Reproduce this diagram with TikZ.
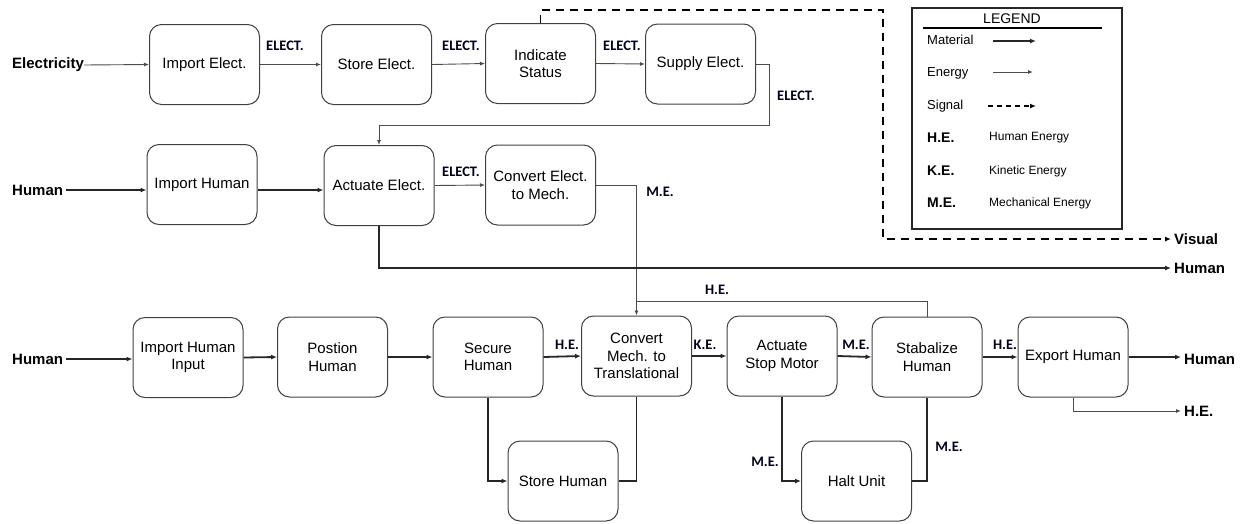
\documentclass[tikz,border=0pt]{standalone}
\usepackage{fontspec}
\setmainfont{Liberation Sans}
\newfontfamily\lblfont{Carlito}
\usepackage{tikz}
\usetikzlibrary{positioning, arrows.meta, calc}
\tikzstyle{func}=[
  rectangle,
  rounded corners=12pt,
  draw=black!75,
  line width=1pt,
  minimum width=110pt,
  minimum height=80pt,
  align=center,
  inner sep=2pt,
  font={\fontsize{15}{17.5}\selectfont}
]
\tikzstyle{material}=[line width=1.8pt, draw=black!85, -{Latex[length=6pt,width=5pt]}]
\tikzstyle{materialline}=[line width=1.8pt, draw=black!85]
\tikzstyle{energy}=[line width=0.9pt, draw=black!70, -{Latex[length=5pt,width=4pt]}]
\tikzstyle{energyline}=[line width=0.9pt, draw=black!70]
\tikzstyle{signal}=[line width=1.8pt, dash pattern=on 8pt off 6pt, -{Latex[length=6pt,width=5pt]}]
\tikzstyle{flowlbl}=[font={\lblfont\bfseries\fontsize{14.5}{16}\selectfont}, text=black!90!blue, inner sep=0pt]
\tikzstyle{extlbl}=[font={\bfseries\fontsize{15}{17}\selectfont}, inner sep=3pt, anchor=west]
\tikzstyle{legtxt}=[font={\fontsize{13}{15}\selectfont}, inner sep=0pt, anchor=west]
\tikzstyle{legsmall}=[font={\fontsize{12}{14}\selectfont}, inner sep=0pt, anchor=west]

\begin{document}
\begin{tikzpicture}[x=1pt, y=-1pt]

\useasboundingbox (0,0) rectangle (1248,523); %% spacing

%% first row
\node[func] (ie) at (204.5, 64.5) {Import Elect.};
\node[func] (se) at (376.5, 64.5) {Store Elect.};
\node[func] (is) at (540.5, 63.5) {Indicate\\Status};
\node[func] (sp) at (700.5, 64) {Supply Elect.};

\node[extlbl, inner sep=0pt] (elec) at (12, 65) {Electricity};

\draw[energy] (elec.east) -- (ie.west);
\draw[energy] (ie.east) -- (se.west);
\draw[energy] (se.east) -- (is.west);
\draw[energy] (is.east) -- (sp.west);

\node[flowlbl] at (285, 46) {ELECT.};
\node[flowlbl] at (461, 46) {ELECT.};
\node[flowlbl] at (622, 46) {ELECT.};
\node[flowlbl] at (796, 96) {ELECT.};

%% second row
\node[func] (ih) at (202, 184.5) {Import Human};
\node[func] (ae) at (379, 185.5) {Actuate Elect.};
\node[func] (ce) at (540.5, 185) {Convert Elect.\\to Mech.};

\node[extlbl] (hum2) at (9, 190) {Human};

\coordinate (spturn) at (769, 125);
\draw[energy] (sp.east) -| (spturn) -| (ae.north);

\draw[material] (hum2.east) -- (hum2.east -| ih.west);
\draw[material] (ih.east |- hum2.east) -- (ae.west |- hum2.east);
\draw[energy] (ae.east) -- (ce.west);
\node[flowlbl] at (461, 172) {ELECT.};

%% third row
\node[func] (ihi) at (188, 357.5) {Import Human\\Input};
\node[func] (ph) at (332.5, 357) {Postion\\Human};
\node[func] (sh) at (488, 357) {Secure\\Human};
\node[func] (cm) at (636.5, 356) {Convert\\Mech. to\\Translational};
\node[func] (asm) at (782, 356) {Actuate\\Stop Motor};
\node[func] (stb) at (927, 357) {Stabalize\\Human};
\node[func] (eh) at (1073, 357) {Export Human};
\node[func] (sth) at (563, 481) {Store Human};
\node[func] (hu) at (856.5, 481) {Halt Unit};

\node[extlbl] (hum3) at (9, 359) {Human};
\node[extlbl] (hout) at (1171, 268) {Human};
\node[extlbl] (vis) at (1171, 239) {Visual};
\node[extlbl] (hout3) at (1181, 359) {Human};
\node[extlbl] (heout) at (1181, 411) {H.E.};

%% signal
\coordinate (sigtop) at (883, 10);
\draw[signal] (is.north) |- (sigtop) |- (vis.west);

%% mechanical energy down
\draw[energy] (ce.east) -| (cm.north);
\node[flowlbl] at (660, 192) {M.E.};

\draw[material] (ae.south) |- (hout.west);

\draw[material] (hum3.east) -- (hum3.east -| ihi.west);
\draw[material] (ihi.east) -- (ph.west);
\draw[material] (ph.east) -- (sh.west);
\draw[material] (sh.east) -- (cm.west);
\draw[material] (cm.east) -- (asm.west);
\draw[material] (asm.east) -- (stb.west);
\draw[material] (stb.east) -- (eh.west);
\draw[material] (eh.east) -- (eh.east -| hout3.west);

\node[flowlbl] at (567, 345) {H.E.};
\node[flowlbl] at (705, 345) {K.E.};
\node[flowlbl] at (856, 345) {M.E.};
\node[flowlbl] at (1005, 345) {H.E.};

\draw[energyline] (stb.north) |- ([yshift=14pt]cm.north);
\node[flowlbl] at (717, 290) {H.E.};

\draw[energy] (eh.south) |- (heout.west);

%% lower branches
\draw[material] (sh.south) |- (sth.west);
\draw[materialline] (sth.east) -| (cm.south);
\draw[material] (asm.south) |- (hu.west);
\draw[materialline] (stb.south) |- (hu.east);
\node[flowlbl] at (765, 462) {M.E.};
\node[flowlbl] at (949, 447) {M.E.};

%% legend
\node[draw=black!85, line width=1.5pt, minimum width=210pt, minimum height=221pt] (lg) at (1017, 118.5) {};
\node[font={\fontsize{14}{16}\selectfont}, inner sep=0pt] (lgtitle) at (1012, 19) {LEGEND};
\draw[line width=1.5pt] (923, 28) -- (1102, 28);

\node[legtxt] (lmat) at (927, 40) {Material};
\node[legtxt] (lene) at (927, 73) {Energy};
\node[legtxt] (lsig) at (927, 106) {Signal};

\coordinate (lm1) at (993, 41);  \coordinate (lm2) at (1036, 41);
\coordinate (le1) at (993, 72);  \coordinate (le2) at (1033, 72);
\coordinate (ls1) at (988, 106); \coordinate (ls2) at (1036, 106);
\draw[material] (lm1) -- (lm2);
\draw[energy] (le1) -- (le2);
\draw[signal, dash pattern=on 5pt off 4pt] (ls1) -- (ls2);

\foreach \y/\ab/\full in {138/H.E./Human Energy, 171/K.E./Kinetic Energy, 203/M.E./Mechanical Energy}{
  \node[legtxt, font={\bfseries\fontsize{14}{16}\selectfont}] (ab\y) at (927, \y) {\ab};
  \node[legsmall] (full\y) at (989, \y) {\full};
}

\end{tikzpicture}
\end{document}
